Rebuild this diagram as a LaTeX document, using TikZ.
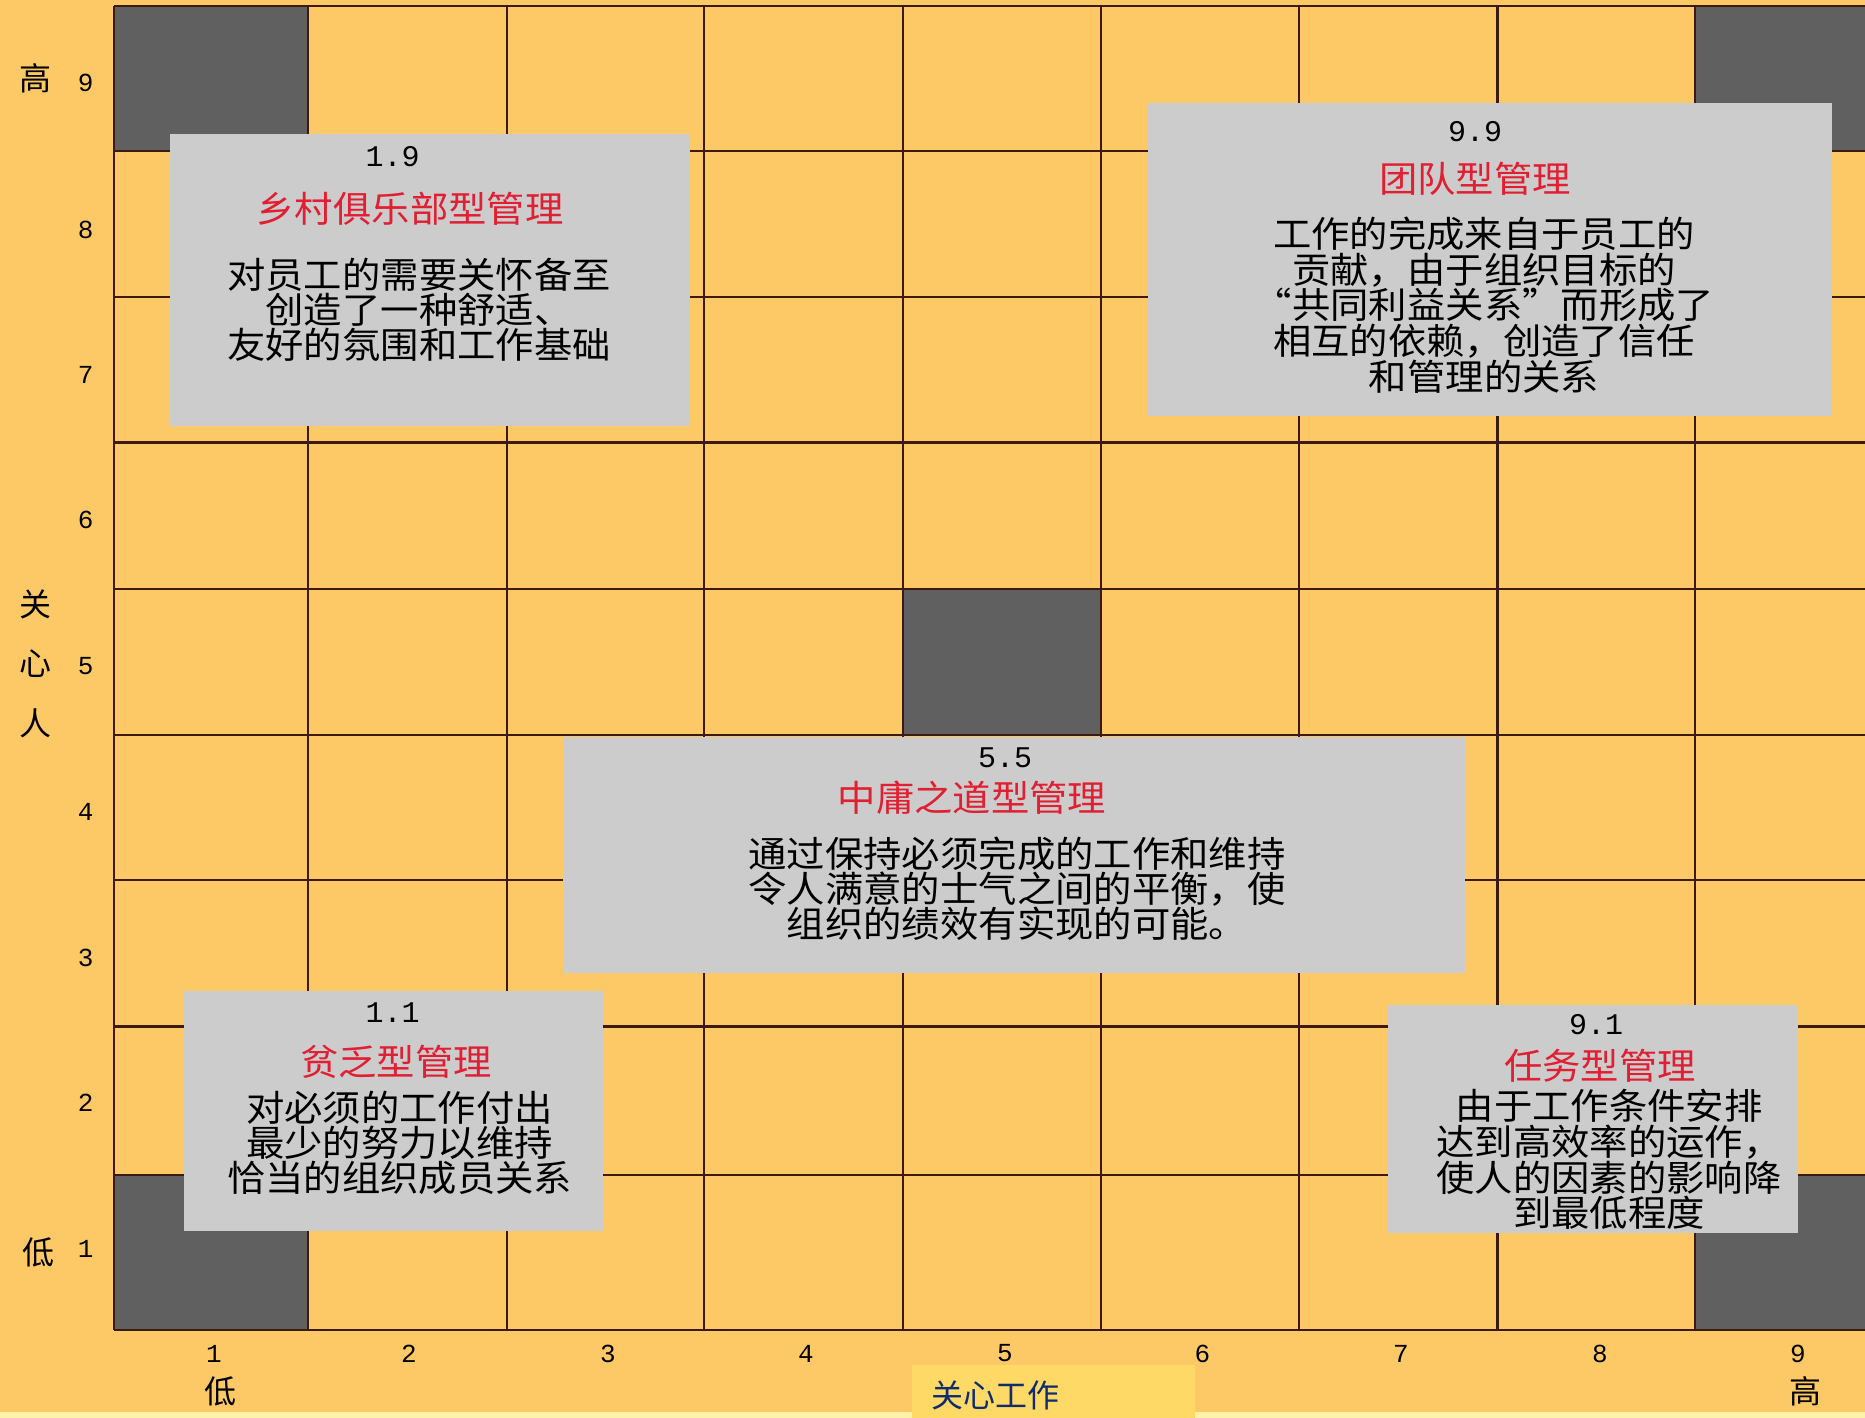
\documentclass[tikz,border=0pt]{standalone}
\usepackage{fontspec}
\newfontfamily\cjk{Noto Sans CJK SC}
\newfontfamily\cjkw[FakeStretch=1.065]{Noto Sans CJK SC}
\newfontfamily\mono{Liberation Mono}
\definecolor{bgc}{RGB}{253,201,102}
\definecolor{bandc}{RGB}{255,240,170}
\definecolor{labc}{RGB}{255,217,102}
\definecolor{gridc}{RGB}{60,26,16}
\definecolor{darkc}{RGB}{96,96,96}
\definecolor{cardc}{RGB}{204,204,204}
\definecolor{redc}{RGB}{225,30,50}
\definecolor{navyc}{RGB}{15,45,110}
\begin{document}
\begin{tikzpicture}[x=1pt,y=-1pt,
  gridline/.style={draw=gridc, line width=2.6pt},
  darksq/.style={fill=darkc},
  card/.style={fill=cardc},
  num/.style={font=\mono\fontsize{30}{30}\selectfont, inner sep=0pt},
  title/.style={font=\cjkw\fontsize{36}{36}\selectfont, text=redc, inner sep=0pt},
  body/.style={font=\cjkw\fontsize{36}{35}\selectfont, align=center, inner sep=0pt, text=black},
  axnum/.style={font=\mono\fontsize{26}{26}\selectfont, inner sep=0pt},
  axlab/.style={font=\cjk\fontsize{32}{32}\selectfont, inner sep=0pt}]
\useasboundingbox (0,0) rectangle (1865,1418);
\fill[bgc] (0,0) rectangle (1865,1418);
\fill[bandc] (0,1412) rectangle (1865,1418);
% dark squares
\fill[darksq] (114,6) rectangle (308,151);
\fill[darksq] (114,1175) rectangle (308,1330);
\fill[darksq] (903,589) rectangle (1101,735);
\fill[darksq] (1695,6) rectangle (1865,151);
\fill[darksq] (1695,1175) rectangle (1865,1330);
% grid
\foreach \x in {114,308,507,704,903,1101,1299,1497.5,1695}
  \draw[gridline] (\x,6) -- (\x,1330);
\foreach \y in {6,151,297,442.5,589,735,880,1026.5,1175,1330}
  \draw[gridline] (114,\y) -- (1865,\y);
% cards
\fill[card] (170,134) rectangle (690,426);
\fill[card] (1148,103.5) rectangle (1832,416);
\fill[card] (562.6,737.4) rectangle (1465.3,973);
\fill[card] (184,990.8) rectangle (603,1231);
\fill[card] (1388,1005) rectangle (1798,1233);
% card 1.9
\node[num] (n19) at (392.5,157) {1.9};
\node[title] (t19) at (410,209) {乡村俱乐部型管理};
\node[body] (b19) at (419,309.5) {对员工的需要关怀备至\\创造了一种舒适、\\友好的氛围和工作基础};
% card 9.9
\node[num] (n99) at (1475,132) {9.9};
\node[title] (t99) at (1475,178.4) {团队型管理};
\node[body, font=\cjkw\fontsize{36}{35.7}\selectfont] (b99) at (1484,305) {工作的完成来自于员工的\\贡献，由于组织目标的\\“共同利益关系”而形成了\\相互的依赖，创造了信任\\和管理的关系};
% card 5.5
\node[num] (n55) at (1005,758) {5.5};
\node[title] (t55) at (972,798) {中庸之道型管理};
\node[body] (b55) at (1017,888.5) {通过保持必须完成的工作和维持\\令人满意的士气之间的平衡，使\\组织的绩效有实现的可能。};
% card 1.1
\node[num] (n11) at (392.5,1013) {1.1};
\node[title] (t11) at (396,1062) {贫乏型管理};
\node[body] (b11) at (399.6,1143) {对必须的工作付出\\最少的努力以维持\\恰当的组织成员关系};
% card 9.1
\node[num] (n91) at (1596,1025) {9.1};
\node[title] (t91) at (1600,1066) {任务型管理};
\node[body, font=\cjkw\fontsize{36}{35.7}\selectfont] (b91) at (1609,1159.6) {由于工作条件安排\\达到高效率的运作，\\使人的因素的影响降\\到最低程度};
% y axis
\node[axnum] (y9) at (85.6,83) {9};
\node[axnum] (y8) at (85.6,229.5) {8};
\node[axnum] (y7) at (85.6,374.7) {7};
\node[axnum] (y6) at (85.6,520) {6};
\node[axnum] (y5) at (85.6,666) {5};
\node[axnum] (y4) at (85.6,812) {4};
\node[axnum] (y3) at (85.6,957.5) {3};
\node[axnum] (y2) at (85.6,1102.6) {2};
\node[axnum] (y1) at (85.6,1249) {1};
\node[axlab] (yhi) at (35.7,78.5) {高};
\node[axlab] (ylo) at (38,1252.5) {低};
\node[axlab] (yg1) at (35.7,604) {关};
\node[axlab] (yg2) at (35.7,663.7) {心};
\node[axlab] (yg3) at (35.7,723) {人};
% x axis
\node[axnum] (x1) at (214,1353.5) {1};
\node[axnum] (x2) at (409,1353.5) {2};
\node[axnum] (x3) at (608,1353.5) {3};
\node[axnum] (x4) at (806,1353.5) {4};
\node[axnum] (x5) at (1005,1353.5) {5};
\node[axnum] (x6) at (1202.5,1353.5) {6};
\node[axnum] (x7) at (1401,1353.5) {7};
\node[axnum] (x8) at (1600,1353.5) {8};
\node[axnum] (x9) at (1798,1353.5) {9};
\node[axlab] (xlo) at (220,1391.6) {低};
\node[axlab] (xhi) at (1805.5,1391.6) {高};
% bottom label
\fill[labc] (912,1365) rectangle (1195,1418);
\node[axlab, text=navyc] (xlab) at (995,1395) {关心工作};
\end{tikzpicture}
\end{document}
